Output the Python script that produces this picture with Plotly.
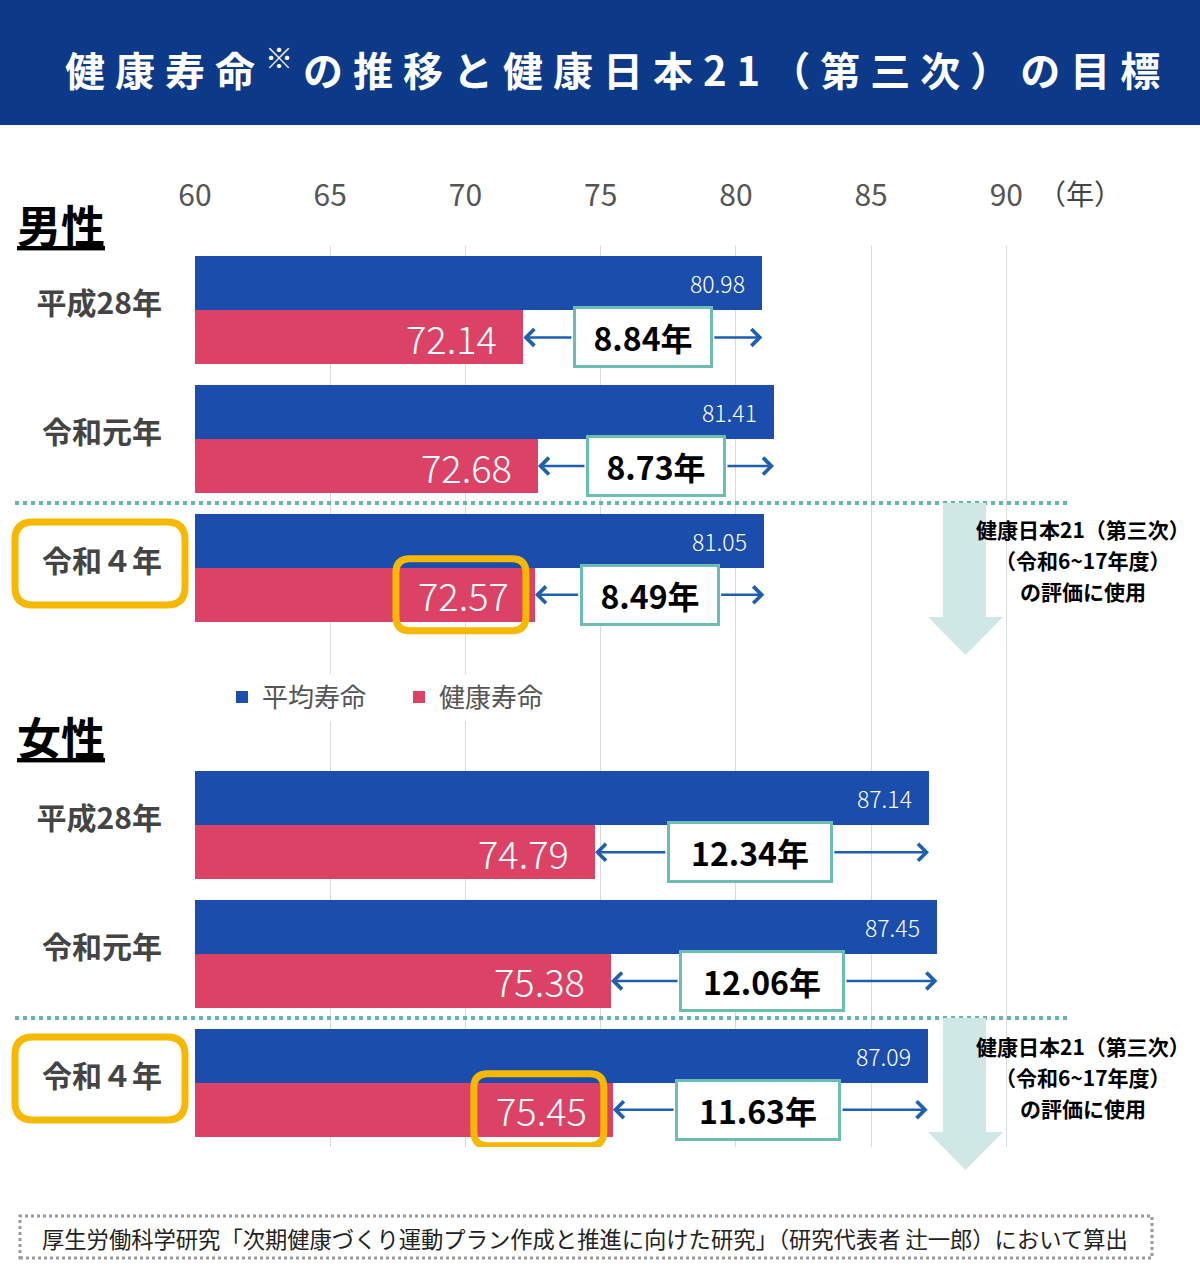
import plotly.graph_objects as go

# ---------------- data ----------------
categories = ["平成28年", "令和元年", "令和４年"]
male_avg = [80.98, 81.41, 81.05]
male_healthy = [72.14, 72.68, 72.57]
male_gap = [8.84, 8.73, 8.49]
female_avg = [87.14, 87.45, 87.09]
female_healthy = [74.79, 75.38, 75.45]
female_gap = [12.34, 12.06, 11.63]
x_ticks = [60, 65, 70, 75, 80, 85, 90]
series_names = ["平均寿命", "健康寿命"]
note_lines = ["健康日本21（第三次）", "（令和6~17年度）", "の評価に使用"]

# ---------------- layout constants ----------------
W, H = 1200, 1280
ML, MR, MT, MB = 195, 99, 246, 133
X0, X1 = 60, 93.5
Y0, Y1 = -0.5, 6.5
PW = W - ML - MR
PH = H - MT - MB
XS = PW / (X1 - X0)        # px per year
YS = PH / (Y1 - Y0)        # px per slot
BAR_OFF = 0.21
BAR_W = 0.42
FONT = "Noto Sans CJK JP"
BLUE = "#1A4DAC"
PINK = "#DB4266"
TEAL = "#6CBDB4"
YELLOW = "#F6B800"
ARROW = "#1F5FAF"

male_slots = [0, 1, 2]
female_slots = [4, 5, 6]


def pxp(px):
    return (px - ML) / PW


def pyp(py):
    return (H - MB - py) / PH


def rrect(x0, y0, x1, y1, rx, ry):
    return (f"M{x0+rx},{y0} L{x1-rx},{y0} Q{x1},{y0} {x1},{y0+ry} "
            f"L{x1},{y1-ry} Q{x1},{y1} {x1-rx},{y1} L{x0+rx},{y1} "
            f"Q{x0},{y1} {x0},{y1-ry} L{x0},{y0+ry} Q{x0},{y0} {x0+rx},{y0} Z")


def label(x, y, text, size, color="black", xanchor="center", weight=None):
    f = dict(family=FONT, size=size, color=color)
    if weight:
        f["weight"] = weight
    return dict(xref="paper", yref="paper", x=pxp(x), y=pyp(y), text=text,
                showarrow=False, xanchor=xanchor, yanchor="middle", font=f)


slots = male_slots + female_slots
avg = male_avg + female_avg
healthy = male_healthy + female_healthy
gaps = male_gap + female_gap

fig = go.Figure()
fig.add_trace(go.Bar(
    name=series_names[0], orientation="h", x=avg,
    y=[s - BAR_OFF for s in slots], width=BAR_W,
    marker=dict(color=BLUE, line=dict(width=0)),
))
fig.add_trace(go.Bar(
    name=series_names[1], orientation="h", x=healthy,
    y=[s + BAR_OFF for s in slots], width=BAR_W,
    marker=dict(color=PINK, line=dict(width=0)),
))

ann = []
shapes = []

# value labels
for s, a, h in zip(slots, avg, healthy):
    ann.append(dict(x=a, y=s - BAR_OFF, xref="x", yref="y", text=f"{a:.2f}",
                    showarrow=False, xanchor="right", yanchor="middle", xshift=-15,
                    font=dict(family=FONT, size=23, color="white", weight=300)))
    ann.append(dict(x=h, y=s + BAR_OFF, xref="x", yref="y", text=f"{h:.2f}",
                    showarrow=False, xanchor="right", yanchor="middle", xshift=-24,
                    font=dict(family=FONT, size=38, color="white", weight=300)))

# gap boxes + arrows
for s, a, h, g in zip(slots, avg, healthy, gaps):
    female = s >= 4
    box_w = 166 if female else 140
    cx = (a + h) / 2 - (0.45 if female else 0.0)
    half = box_w / 2 / XS
    yy = s + BAR_OFF
    ann.append(dict(x=cx, y=yy, xref="x", yref="y", text=f"<b>{g:.2f}年</b>",
                    showarrow=False, bgcolor="white", bordercolor=TEAL,
                    borderwidth=3, borderpad=3, width=box_w - 12, height=50,
                    xanchor="center", yanchor="middle",
                    font=dict(family=FONT, size=32, color="black")))
    for tip, tail in ((h, cx - half), (a, cx + half)):
        ann.append(dict(x=tip, y=yy, ax=tail, ay=yy, xref="x", yref="y",
                        axref="x", ayref="y", text=" ", showarrow=True,
                        arrowhead=4, arrowsize=1.3, arrowwidth=2.5,
                        arrowcolor=ARROW, standoff=0, startstandoff=0,
                        font=dict(size=1)))

# yellow highlight around latest healthy value
for s, h in ((male_slots[2], male_healthy[2]), (female_slots[2], female_healthy[2])):
    yc = s + BAR_OFF
    shapes.append(dict(type="path", xref="x", yref="y", layer="above",
                       path=rrect(h - 139 / XS, yc - 36 / YS, h - 9 / XS, yc + 36 / YS,
                                  14 / XS, 14 / YS),
                       line=dict(color=YELLOW, width=7)))

# yellow highlight around latest category label
for top in (522, 1037):
    shapes.append(dict(type="path", xref="paper", yref="paper", layer="above",
                       path=rrect(pxp(15), pyp(top + 83), pxp(185), pyp(top),
                                  18 / PW, 18 / PH),
                       line=dict(color=YELLOW, width=7)))

# dotted separators
for ypx in (503, 1018):
    shapes.append(dict(type="line", xref="paper", yref="paper", layer="above",
                       x0=pxp(15), x1=pxp(1070), y0=pyp(ypx), y1=pyp(ypx),
                       line=dict(color="#5FB7AE", width=4, dash="dot")))

# big down arrows
for top in (503, 1018):
    pts = [(943, top), (986, top), (986, top + 114), (1003, top + 114),
           (965.5, top + 152), (928, top + 114), (943, top + 114)]
    p = "M" + " L".join(f"{pxp(x)},{pyp(y)}" for x, y in pts) + " Z"
    shapes.append(dict(type="path", xref="paper", yref="paper", layer="above",
                       path=p, fillcolor="#CFE8E6", line=dict(width=0)))

# title banner
shapes.append(dict(type="rect", xref="paper", yref="paper", layer="above",
                   x0=pxp(0), x1=pxp(1200), y0=pyp(125), y1=pyp(0),
                   fillcolor="#0D3A88", line=dict(width=0)))

# footer box
shapes.append(dict(type="rect", xref="paper", yref="paper", layer="above",
                   x0=pxp(20), x1=pxp(1152), y0=pyp(1258), y1=pyp(1216),
                   line=dict(color="#9A9A9A", width=3, dash="dot")))

ann.append(label(617, 68,
                 '<span style="letter-spacing:10px"><b>健康寿命<sup>※</sup>の推移と健康日本21（第三次）の目標</b></span>',
                 40, "white"))
ann.append(label(15, 224, "<b><u>男性</u></b>", 44, xanchor="left"))
ann.append(label(15, 736, "<b><u>女性</u></b>", 44, xanchor="left"))
ann.append(label(1080, 193, "（年）", 28, "#444444"))
for yc in (560, 1077):
    for k, line in enumerate(note_lines):
        ann.append(label(1083, yc - 31 + 31 * k, f"<b>{line}</b>", 21))
ann.append(label(585, 1238,
                 "厚生労働科学研究「次期健康づくり運動プラン作成と推進に向けた研究」（研究代表者 辻一郎）において算出",
                 22.3, "#222222"))

fig.update_layout(
    width=W, height=H,
    margin=dict(l=ML, r=MR, t=MT, b=MB, pad=0),
    paper_bgcolor="white", plot_bgcolor="rgba(0,0,0,0)",
    barmode="overlay", bargap=0,
    font=dict(family=FONT),
    showlegend=True,
    legend=dict(orientation="h", x=pxp(222), y=pyp(697), xanchor="left",
                yanchor="middle", bgcolor="white",
                font=dict(family=FONT, size=26, color="#555555"),
                entrywidth=132, entrywidthmode="pixels"),
    xaxis=dict(range=[X0, X1], side="top", tickvals=x_ticks,
               showgrid=True, gridcolor="#D9D9D9", gridwidth=1,
               zeroline=False, showline=False, ticks="",
               ticklabelstandoff=33,
               tickfont=dict(family=FONT, size=30, color="#555555")),
    yaxis=dict(range=[Y1, Y0], tickvals=[s - 0.05 for s in slots],
               ticktext=categories * 2, showgrid=False, zeroline=False,
               showline=False, ticks="", ticklabelstandoff=32,
               tickfont=dict(family=FONT, size=30, color="#444444", weight="bold")),
    annotations=ann, shapes=shapes,
)

fig.write_html("out.html", config={"displayModeBar": False},
               post_script="document.body.style.margin='0';")
